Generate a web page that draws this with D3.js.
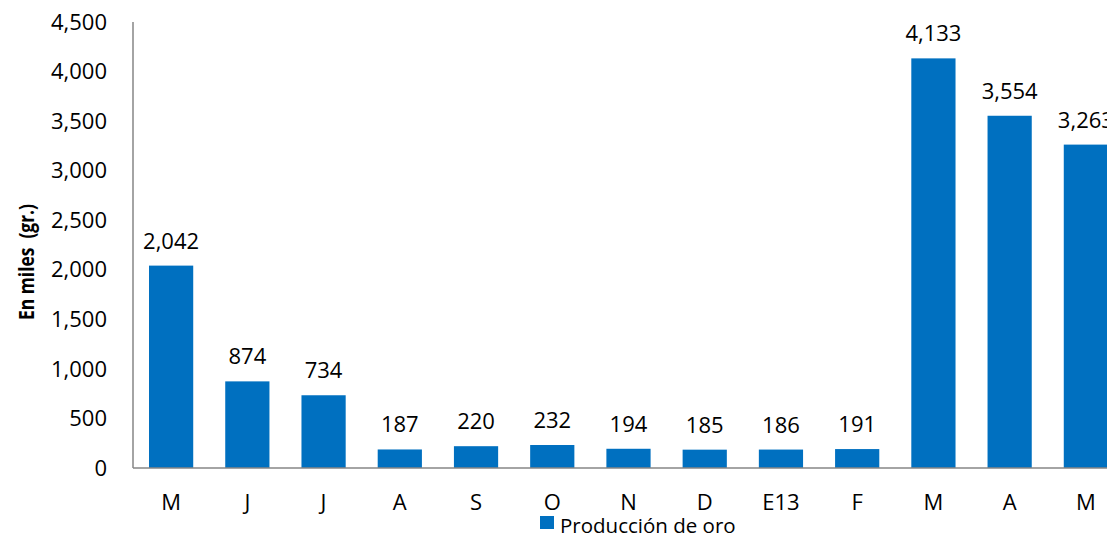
<!DOCTYPE html>
<html>
<head>
<meta charset="utf-8">
<script src="https://cdn.jsdelivr.net/npm/d3@7"></script>
<style>
body { margin: 0; background: #fff; }
text { font-family: "Open Sans", sans-serif; fill: #000; }
</style>
</head>
<body>
<div id="chart"></div>
<script>
var categories = ["M", "J", "J", "A", "S", "O", "N", "D", "E13", "F", "M", "A", "M"];
var values = [2042, 874, 734, 187, 220, 232, 194, 185, 186, 191, 4133, 3554, 3263];
var yTicks = [0, 500, 1000, 1500, 2000, 2500, 3000, 3500, 4000, 4500];
var seriesName = "Producción de oro";
var yTitle = "En miles  (gr.)";

var layout = { w: 1107, h: 538, left: 133, top: 22, bottom: 468 };

var svg = d3.select("#chart").append("svg")
	.attr("width", layout.w)
	.attr("height", layout.h);

var xScale = d3.scaleBand()
	.domain(d3.range(categories.length))
	.range([layout.left, layout.left + 13 * 76.23])
	.paddingInner(0.42)
	.paddingOuter(0.21);

var yScale = d3.scaleLinear()
	.domain([0, 4500])
	.range([layout.bottom, layout.top]);

var fmt = d3.format(",");

// y tick labels
svg.append("g")
	.selectAll("text")
	.data(yTicks)
	.enter().append("text")
	.attr("x", 107)
	.attr("y", function(d){ return yScale(d); })
	.attr("dy", "0.35em")
	.attr("text-anchor", "end")
	.style("font-size", "22px")
	.text(function(d){ return fmt(d); });

// bars
svg.append("g")
	.selectAll("rect")
	.data(values)
	.enter().append("rect")
	.attr("x", function(d, i){ return xScale(i); })
	.attr("y", function(d){ return yScale(d); })
	.attr("width", xScale.bandwidth())
	.attr("height", function(d){ return yScale(0) - yScale(d); })
	.style("fill", "#0070C0");

// data labels
svg.append("g")
	.selectAll("text")
	.data(values)
	.enter().append("text")
	.attr("x", function(d, i){ return xScale(i) + xScale.bandwidth() / 2; })
	.attr("y", function(d){ return yScale(d) - 17; })
	.attr("text-anchor", "middle")
	.style("font-size", "22px")
	.text(function(d){ return fmt(d); });

// axes lines
svg.append("line")
	.attr("x1", layout.left).attr("x2", layout.left)
	.attr("y1", layout.top).attr("y2", layout.bottom)
	.style("stroke", "#868686").style("stroke-width", 1.5);
svg.append("line")
	.attr("x1", layout.left).attr("x2", layout.w)
	.attr("y1", layout.bottom).attr("y2", layout.bottom)
	.style("stroke", "#868686").style("stroke-width", 1.5);

// x labels
svg.append("g")
	.selectAll("text")
	.data(categories)
	.enter().append("text")
	.attr("x", function(d, i){ return xScale(i) + xScale.bandwidth() / 2; })
	.attr("y", 510)
	.attr("text-anchor", "middle")
	.style("font-size", "22px")
	.text(function(d){ return d; });

// y title
svg.append("text")
	.attr("transform", "translate(34,262) rotate(-90)")
	.attr("text-anchor", "middle")
	.attr("textLength", 116)
	.attr("lengthAdjust", "spacingAndGlyphs")
	.style("font-size", "21px")
	.style("font-weight", "bold")
	.style("white-space", "pre")
	.text(yTitle);

// legend
svg.append("rect")
	.attr("x", 540).attr("y", 516)
	.attr("width", 14).attr("height", 13)
	.style("fill", "#0070C0");
svg.append("text")
	.attr("x", 560).attr("y", 533)
	.style("font-size", "20.5px")
	.text(seriesName);
</script>
</body>
</html>
